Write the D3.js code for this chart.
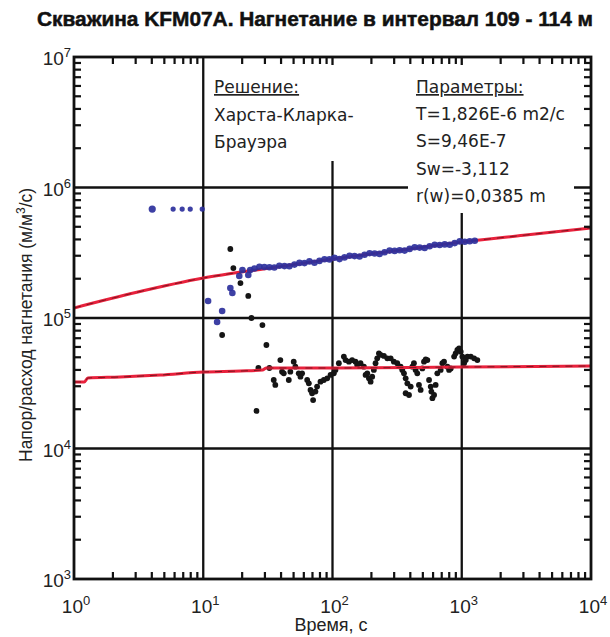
<!DOCTYPE html>
<html><head><meta charset="utf-8">
<script src="https://cdn.jsdelivr.net/npm/d3@7"></script>
</head><body style="margin:0">
<svg id="c" width="610" height="637"></svg>
<script>
// ---- data ----
const xMajor = [1, 10, 100, 1000, 10000];
const yMajor = [1e3, 1e4, 1e5, 1e6, 1e7];
const xExp = ["0", "1", "2", "3", "4"];
const yExp = ["3", "4", "5", "6", "7"];
const minorMult = [2, 3, 4, 5, 6, 7, 8, 9];

// model type curve (red, pressure)
const modelPT = [1, 3, 10, 30, 100, 300, 1000, 3000, 10000];
const modelPV = [119400, 156700, 202300, 238800, 283100, 326600, 381900, 430500, 489800];
// model derivative (red, lower)
const modelDT = [1, 1.2, 1.28, 2.27, 4.64, 10, 19.4, 28.7, 30.8, 105.5, 982, 10000];
const modelDV = [32330, 32330, 34690, 35310, 36580, 38570, 39260, 39950, 41390, 41390, 42120, 42870];

// measured pressure / rate (blue)
const blueT = [4.03, 5.85, 6.87, 7.93, 9.82, 10.9, 12.8, 14.0, 16.2, 16.8, 19.0, 20.1, 22.3, 23.1,
  24.9, 27.2, 29.7, 32.5, 35.5, 38.8, 42.5, 46.4, 50.8, 55.5, 60.7, 66.3, 72.5, 79.3, 86.7, 94.8,
  103.6, 113.3, 123.9, 135.5, 148.1, 162.0, 177.1, 193.6, 211.7, 231.4, 253.0, 276.7, 302.5, 330.7,
  361.5, 395.3, 432.2, 472.4, 516.6, 564.8, 617.6, 675.3, 738.3, 807.2, 882.4, 965.0, 1055, 1153, 1261];
const blueV = [684000, 684000, 684000, 684000, 684000, 134900, 93100, 113100, 169800, 155400, 209900, 233300, 213600, 233300,
  239500, 246800, 246000, 244700, 243800, 251200, 249900, 249000, 256600, 264400, 263500, 271500, 265400, 273900, 282300, 281200,
  289900, 282700, 291400, 299700, 298100, 296000, 305100, 313800, 312200, 309900, 319300, 328500, 326800, 330300,
  328500, 338500, 348200, 346400, 343900, 354300, 364500, 362600, 366400, 364500, 374900, 386400, 383600, 387000, 391200];

// measured derivative (black)
const blackT = [14.0, 16.2, 17.1, 19.4, 22.3, 23.6, 25.8, 26.7, 28.7, 30.8, 32.5,
  35.1, 36.1, 39.5, 40.7, 42.0, 45.9, 47.2, 50.1, 51.6, 54.8, 56.5, 58.2, 63.7, 65.6, 67.6, 69.5, 70.8, 73.8, 76.0, 80.7,
  85.7, 91.0, 96.6, 102.4, 105.4, 112, 122.4, 126.2, 134, 141.9, 150.7, 155.2, 164.8, 175, 180.3, 185.8, 191.4, 197.2,
  202.8, 208.9, 215.3, 221.8, 228.6, 235.5, 250, 265.5, 281.8, 298.5, 317, 336.5, 346.7, 357.3, 368.1, 379.3, 368.1,
  390.8, 402.7, 414.9, 426.6, 439.5, 452.9, 466.6, 480.8, 495.5, 510.5, 526, 542, 558.5, 575.4, 582, 592.9, 610.9,
  628.1, 647.1, 687.1, 707.9, 729.4, 774.5, 798, 822.2, 873, 897.5, 924.7, 952.8, 981.7, 1011, 1042, 1074, 1107, 1175, 1247, 1321];
const blackV = [74100, 338000, 241500, 185300, 147600, 100000, 19400, 41400, 88300, 62100, 41400,
  33500, 30700, 47600, 38800, 37700, 33500, 38800, 46300, 42400, 37700, 35500, 37700, 33500, 31600, 28100, 26500, 23500, 27300, 29800, 32500,
  33500, 34500, 36600, 37700, 40000, 45000, 50600, 47600, 46300, 47600, 46300, 43600, 45000, 42400, 36600, 37700, 34500, 32500,
  35500, 40000, 45000, 49100, 53600, 52100, 51200, 49100, 49100, 46300, 45000, 42400, 40000, 37700, 34500, 31600, 26500,
  25700, 29800, 42400, 45000, 40000, 37700, 30700, 28100, 41100, 46300, 48200, 47600, 33500, 29800, 27300, 24300, 25700,
  30700, 37700, 40000, 45000, 46300, 42400, 40000, 41100, 50600, 53600, 56900, 58600, 55200, 50600, 45000, 47600, 50600, 50600, 49100, 47600];

const titleText = "Скважина KFM07A. Нагнетание в интервал 109 - 114 м";
const xTitle = "Время, с";
const solutionLines = ["Решение:", "Харста-Кларка-", "Брауэра"];
const paramLines = ["Параметры:", "T=1,826E-6 m2/c", "S=9,46E-7", "Sw=-3,112", "r(w)=0,0385 m"];

// ---- drawing ----
const svg = d3.select("#c");
const L = 74, R = 591, T = 57, B = 579;
const x = d3.scaleLog().domain([1, 1e4]).range([L, R]);
const y = d3.scaleLog().domain([1e3, 1e7]).range([B, T]);

const minorX = xMajor.slice(0, -1).flatMap(d => minorMult.map(m => d * m));
const minorY = yMajor.slice(0, -1).flatMap(d => minorMult.map(m => d * m));

// grid
xMajor.slice(1, -1).forEach(v => svg.append("line").attr("x1", x(v)).attr("x2", x(v)).attr("y1", T).attr("y2", B)
  .attr("stroke", "#111").attr("stroke-width", 2.3));
yMajor.slice(1, -1).forEach(v => svg.append("line").attr("y1", y(v)).attr("y2", y(v)).attr("x1", L).attr("x2", R)
  .attr("stroke", "#111").attr("stroke-width", 2.3));

// annotation boxes (white background)
svg.append("rect").attr("x", 206).attr("y", 65).attr("width", 198).attr("height", 96).attr("fill", "#fff");
svg.append("rect").attr("x", 408).attr("y", 65).attr("width", 166).attr("height", 148).attr("fill", "#fff");
const boxFont = "'DejaVu Sans', Verdana, sans-serif";
solutionLines.forEach((s, i) => {
  svg.append("text").attr("x", 214).attr("y", 93 + i * 27.5).attr("font-family", boxFont)
    .attr("font-size", 17).attr("fill", "#222").attr("text-decoration", i === 0 ? "underline" : null).text(s);
});
paramLines.forEach((s, i) => {
  svg.append("text").attr("x", 416).attr("y", 93 + i * 27.2).attr("font-family", boxFont)
    .attr("font-size", 17).attr("fill", "#222").attr("text-decoration", i === 0 ? "underline" : null).text(s);
});

// tick labels
const lblFont = "'Liberation Sans', Arial, sans-serif";
function powLabel(px, py, e, anchor) {
  const t = svg.append("text").attr("x", px).attr("y", py).attr("font-family", lblFont)
    .attr("font-size", 19).attr("fill", "#222").attr("text-anchor", anchor);
  t.append("tspan").text("10");
  t.append("tspan").attr("font-size", 13).attr("dy", -8).text(e);
}
xMajor.forEach((v, i) => powLabel(x(v) + 2, 613, xExp[i], "middle"));
yMajor.forEach((v, i) => powLabel(71, y(v) + 8, yExp[i], "end"));

// titles
svg.append("text").attr("x", 315).attr("y", 26).attr("text-anchor", "middle")
  .attr("font-family", "'Liberation Sans Narrow', 'Liberation Sans', Arial, sans-serif").attr("font-weight", "bold")
  .attr("font-size", 20).attr("fill", "#111").attr("stroke", "#111").attr("stroke-width", 0.5)
  .attr("textLength", 556).attr("lengthAdjust", "spacingAndGlyphs").text(titleText);
svg.append("text").attr("x", 331).attr("y", 631).attr("text-anchor", "middle").attr("font-family", lblFont)
  .attr("font-size", 18).attr("fill", "#222").text(xTitle);
const yt = svg.append("text").attr("transform", "translate(32,462) rotate(-90)").attr("text-anchor", "start")
  .attr("font-family", lblFont).attr("font-size", 17.5).attr("fill", "#222");
yt.append("tspan").text("Напор/расход нагнетания (м/м");
yt.append("tspan").attr("font-size", 12).attr("dy", -7).text("3");
yt.append("tspan").attr("dy", 7).text("/с)");

// clip to plot area
svg.append("clipPath").attr("id", "clip").append("rect").attr("x", L).attr("y", T).attr("width", R - L).attr("height", B - T);
const plot = svg.append("g").attr("clip-path", "url(#clip)");

// black derivative points
plot.append("g").selectAll("circle").data(blackT.map((t, i) => [t, blackV[i]])).join("circle")
  .attr("cx", d => x(d[0])).attr("cy", d => y(d[1])).attr("r", 2.9).attr("fill", "#151515");

// red model lines
const lineGen = d3.line().x(d => x(d[0])).y(d => y(d[1])).curve(d3.curveMonotoneX);
[[modelPT, modelPV], [modelDT, modelDV]].forEach(([ts, vs]) => {
  const pts = ts.map((t, i) => [t, vs[i]]);
  plot.append("path").attr("d", lineGen(pts)).attr("fill", "none").attr("stroke", "#e8213c").attr("stroke-width", 3);
  plot.append("path").attr("d", lineGen(pts)).attr("fill", "none").attr("stroke", "#2a0a0a").attr("stroke-width", 1)
    .attr("stroke-dasharray", "7,6").attr("opacity", 0.55);
});

// blue measured points
plot.append("g").selectAll("circle").data(blueT.map((t, i) => [t, blueV[i]])).join("circle")
  .attr("cx", d => x(d[0])).attr("cy", d => y(d[1])).attr("r", (d, i) => i === 0 ? 3.6 : (i < 5 ? 2.6 : 3.3))
  .attr("fill", "#2c309c").attr("opacity", 0.92);

// border
svg.append("rect").attr("x", L).attr("y", T).attr("width", R - L).attr("height", B - T)
  .attr("fill", "none").attr("stroke", "#111").attr("stroke-width", 2.8);

// minor ticks (inward, all four sides) as small filled rects
const tk = 7, tw = 2.2;
const tg = svg.append("g").attr("fill", "#111");
minorX.forEach(v => {
  tg.append("rect").attr("x", x(v) - tw / 2).attr("y", B - tk).attr("width", tw).attr("height", tk);
  tg.append("rect").attr("x", x(v) - tw / 2).attr("y", T).attr("width", tw).attr("height", tk);
});
minorY.forEach(v => {
  tg.append("rect").attr("x", L).attr("y", y(v) - tw / 2).attr("width", tk).attr("height", tw);
  tg.append("rect").attr("x", R - tk).attr("y", y(v) - tw / 2).attr("width", tk).attr("height", tw);
});
</script>
</body></html>
